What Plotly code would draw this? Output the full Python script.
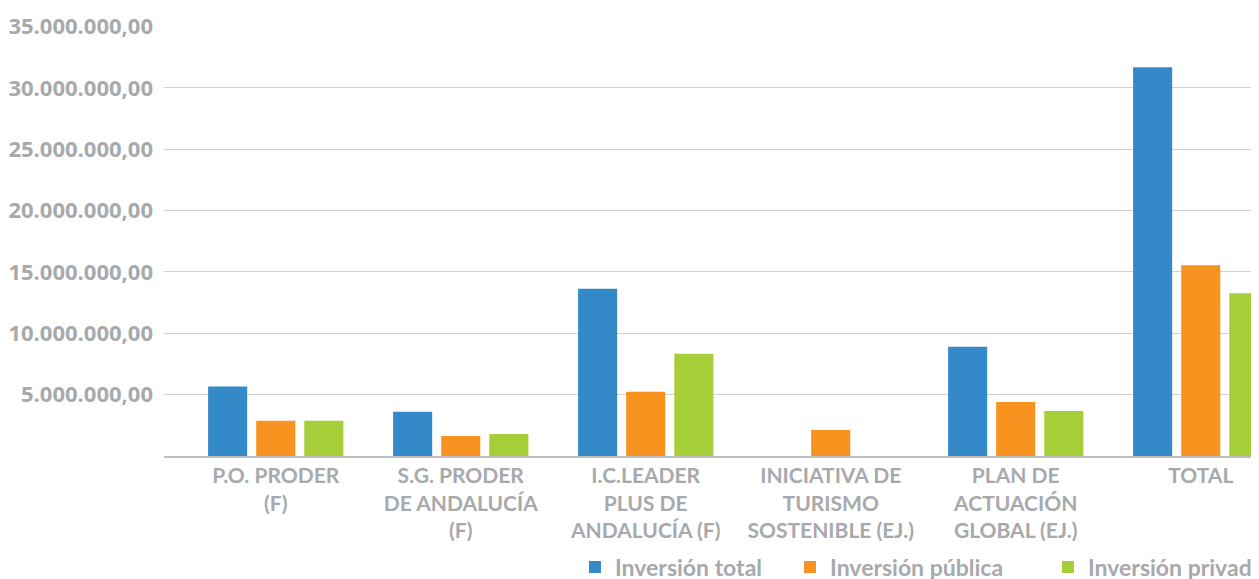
import plotly.graph_objects as go

categories = [
    "P.O. PRODER<br>(F)",
    "S.G. PRODER<br>DE ANDALUCÍA<br>(F)",
    "I.C.LEADER<br>PLUS DE<br>ANDALUCÍA (F)",
    "INICIATIVA DE<br>TURISMO<br>SOSTENIBLE (EJ.)",
    "PLAN DE<br>ACTUACIÓN<br>GLOBAL (EJ.)",
    "TOTAL",
]
series_names = ["Inversión total", "Inversión pública", "Inversión privada"]
inversion_total = [5660000, 3610000, 13640000, None, 8900000, 31680000]
inversion_publica = [2870000, 1640000, 5230000, 2120000, 4410000, 15550000]
inversion_privada = [2870000, 1800000, 8330000, None, 3670000, 13270000]

y_tickvals = [5e6, 10e6, 15e6, 20e6, 25e6, 30e6, 35e6]
y_ticktext = ["5.000.000,00", "10.000.000,00", "15.000.000,00", "20.000.000,00",
              "25.000.000,00", "30.000.000,00", "35.000.000,00"]

colors = ["#3489c9", "#f7931e", "#a6ce39"]
legend_ids = ["legend", "legend2", "legend3"]
legend_x = [0.4532, 0.6251, 0.8313]
gray = "#a7a9ac"

fig = go.Figure()
for name, vals, col, lid in zip(series_names,
                                [inversion_total, inversion_publica, inversion_privada],
                                colors, legend_ids):
    fig.add_trace(go.Bar(name=name, x=categories, y=vals, marker_color=col,
                         marker_line_width=0, legend=lid))

legend_common = dict(orientation="h", xref="container", yref="container",
                     xanchor="left", y=0.0585, yanchor="top",
                     font=dict(family="Lato", size=23, color=gray, weight="bold"),
                     bgcolor="rgba(0,0,0,0)", itemwidth=30)

# page body has an 8px margin, so the figure is sized/offset to compensate
fig.update_layout(
    width=1251, height=571,
    margin=dict(l=156, r=0, t=18, b=123, autoexpand=False),
    paper_bgcolor="white", plot_bgcolor="white",
    barmode="group", bargap=0.22, bargroupgap=0.1875,
    showlegend=True,
    legend=dict(legend_common, x=legend_x[0]),
    legend2=dict(legend_common, x=legend_x[1]),
    legend3=dict(legend_common, x=legend_x[2]),
    xaxis=dict(
        type="category", range=[-0.604, 5.315], automargin=False,
        tickfont=dict(family="Lato", size=21, color=gray, weight="bold"),
        showgrid=False, showline=True, linecolor="#bcbec0", linewidth=2,
        ticks="", tickangle=0,
    ),
    yaxis=dict(
        range=[0, 35e6 * 1.0015], automargin=False,
        tickvals=y_tickvals, ticktext=y_ticktext,
        tickfont=dict(family="Open Sans", size=22, color=gray, weight="bold"),
        showgrid=True, gridcolor="#d1d3d4", gridwidth=1,
        zeroline=False, showline=False, ticks="", ticklabelstandoff=10,
    ),
)

fig.write_html("out.html")
